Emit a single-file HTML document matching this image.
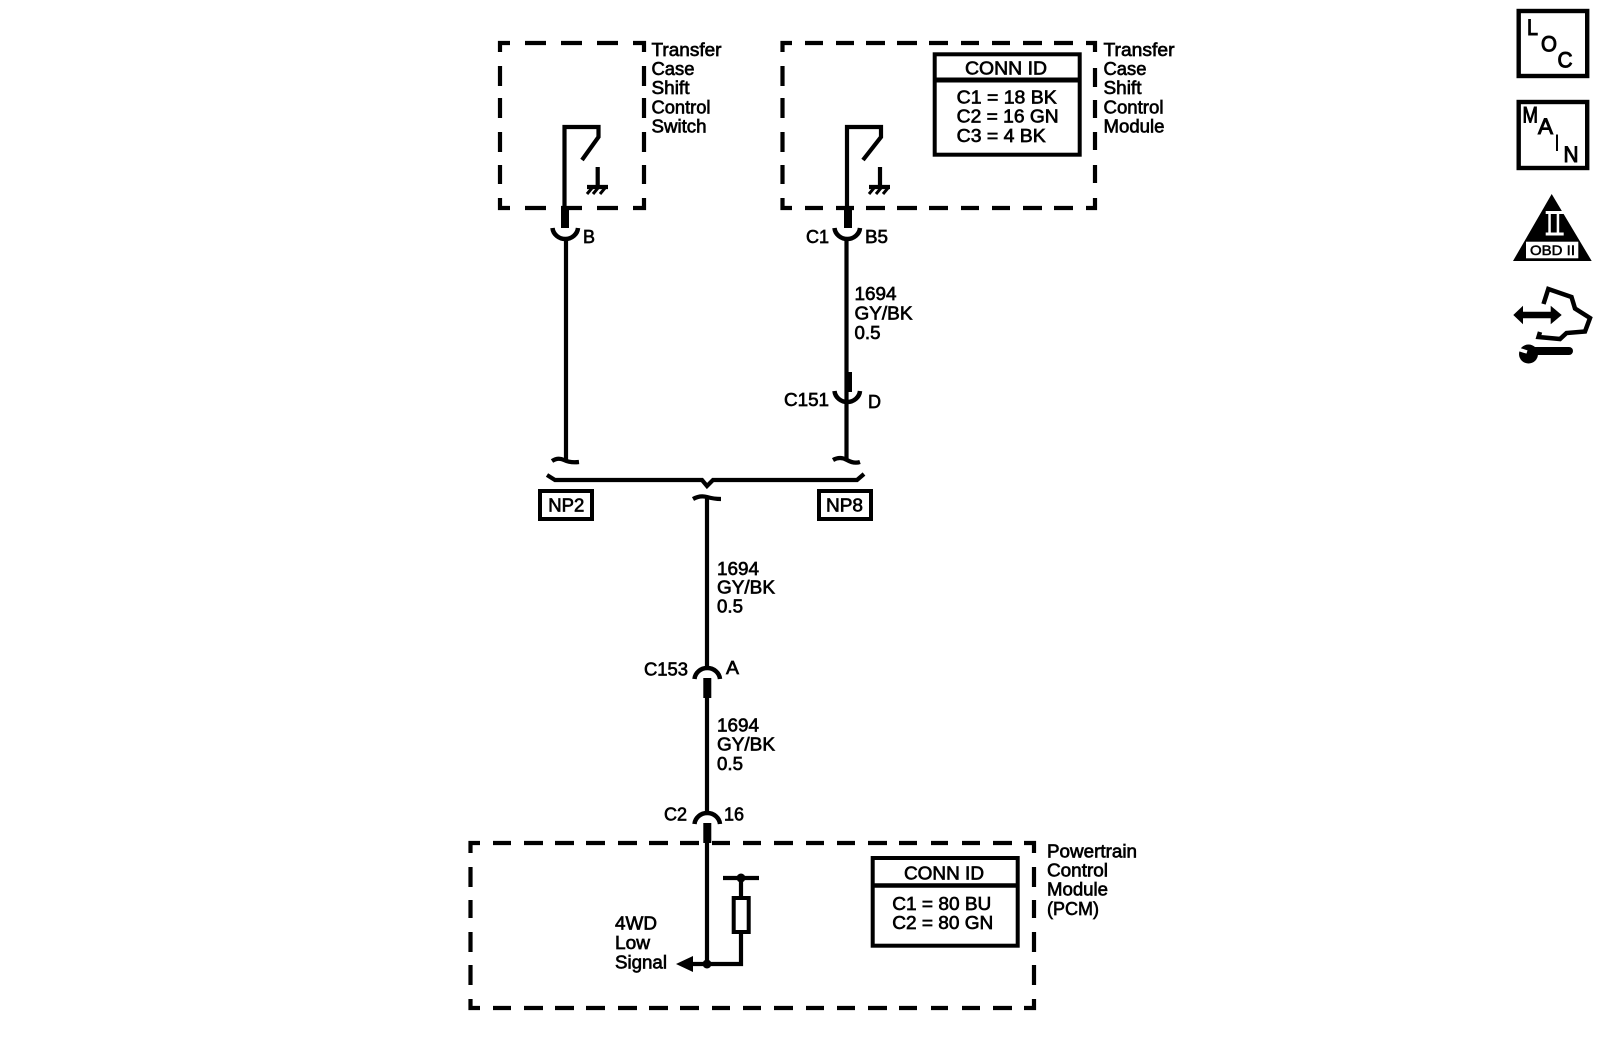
<!DOCTYPE html>
<html>
<head>
<meta charset="utf-8">
<title>Wiring diagram</title>
<style>
html,body{margin:0;padding:0;background:#fff;}
svg{display:block;}
text{font-family:"Liberation Sans",sans-serif;font-size:18px;fill:#000;stroke:#000;stroke-width:.65px;}
.w{fill:none;stroke:#000;stroke-width:4.2;}
.t{fill:none;stroke:#000;stroke-width:8;}
.i{font-size:22px;stroke-width:1px;}
</style>
</head>
<body>
<svg width="1600" height="1052" viewBox="0 0 1600 1052" xmlns="http://www.w3.org/2000/svg">
<rect width="1600" height="1052" fill="#fff"/>

<!-- Left dashed box -->
<path class="w" d="M510 43H500V52M525 43H546M561 43H582M597 43H618M633 43H644V52M500 66V86M500 98V118M500 132V152M500 165V184M500 198V208H510M525 208H546M561 208H582M597 208H618M633 208H644V198M644 66V86M644 98V118M644 132V152M644 165V184"/>
<!-- Right dashed box -->
<path class="w" d="M792 43H782.500V52M805 43H823M836 43H854M866 43H885M897 43H917M929 43H948M961 43H979M992 43H1010M1023 43H1042M1054 43H1073M1086 43H1095V52M782.500 66V86M782.500 98V118M782.500 132V152M782.500 165V184M782.500 198V208H792M805 208H823M836 208H854M866 208H885M897 208H917M929 208H948M961 208H979M992 208H1010M1023 208H1042M1054 208H1073M1086 208H1095V198M1095 68V87M1095 100V118M1095 132V150M1095 165V183"/>
<!-- PCM dashed box -->
<path class="w" d="M480 843H470.500V853M493 843H511M524 843H543M555 843H574M586 843H605M618 843H637M649 843H668M680 843H699M712 843H730M743 843H761M774 843H793M806 843H824M837 843H855M868 843H887M899 843H917M931 843H948M962 843H980M993 843H1012M1024 843H1034V853M470.500 867V887M470.500 900V918M470.500 932V952M470.500 965V985M470.500 999V1008H480M493 1008H511M524 1008H543M555 1008H574M586 1008H605M618 1008H637M649 1008H668M680 1008H699M712 1008H730M743 1008H761M774 1008H793M806 1008H824M837 1008H855M868 1008H887M899 1008H917M931 1008H948M962 1008H980M993 1008H1012M1024 1008H1034V999M1034 867V887M1034 900V918M1034 932V952M1034 965V985"/>

<!-- Left switch -->
<path class="w" d="M564.500 206V127H598.500V137L582 160"/>
<path class="w" d="M597.700 167V187M587 187H608"/>
<path class="w" style="stroke-width:3" d="M592 188L587 194M598 188L593 194M605 188L600 194"/>
<path class="t" d="M565 206V228"/>
<path class="w" style="stroke-width:4.500" d="M552.500 228A12.800 12 0 0 0 578 228"/>
<path class="w" d="M566 240V460"/>
<path class="w" d="M552 461Q558 457 564 460T579 462"/>

<!-- Right switch -->
<path class="w" d="M847 206V127H881V137L863 160"/>
<path class="w" d="M880 167V187M869 187H890"/>
<path class="w" style="stroke-width:3" d="M874 188L869 194M881 188L876 194M888 188L883 194"/>
<path class="t" d="M848 206V228"/>
<path class="w" style="stroke-width:4.500" d="M834.500 228A12.800 12 0 0 0 860 228"/>
<path class="w" d="M846.500 240V460"/>
<path class="t" d="M848.500 372V392" style="stroke-width:7"/>
<path class="w" style="stroke-width:4.500" d="M834.500 391A12.800 12 0 0 0 860 391"/>
<path class="w" d="M833 460Q840 456 847 460T860 462"/>

<!-- Bus -->
<path class="w" d="M547 475L555 480H702L707 486L713 480H857L864 474"/>
<path class="w" d="M693 499Q700 495 707 497T721 499"/>
<path class="w" d="M707 497V666"/>
<rect x="540" y="491" width="52" height="28" fill="#fff" stroke="#000" stroke-width="4"/>
<rect x="819" y="491" width="52" height="28" fill="#fff" stroke="#000" stroke-width="4"/>

<!-- C153 / C2 connectors -->
<path class="w" style="stroke-width:4.500" d="M694.500 679A12.800 12 0 0 1 720 679"/>
<path class="t" d="M707.300 678V698"/>
<path class="w" d="M707 698V811"/>
<path class="w" style="stroke-width:4.500" d="M694.500 824A12.800 12 0 0 1 720 824"/>
<path class="t" d="M707.300 823V843"/>

<!-- PCM internals -->
<path class="w" d="M707 843V964"/>
<path class="w" d="M692 964H741V878"/>
<path class="w" d="M723 878H759"/>
<circle cx="741" cy="878" r="4.500" fill="#000"/>
<circle cx="707" cy="964" r="4.500" fill="#000"/>
<polygon points="676,964 693,956 693,972" fill="#000"/>
<rect x="733.700" y="898" width="15" height="34" fill="#fff" stroke="#000" stroke-width="4"/>

<!-- Conn ID boxes -->
<rect x="934.700" y="54.300" width="145" height="100.400" fill="#fff" stroke="#000" stroke-width="4"/>
<path class="w" style="stroke-width:5" d="M934 80H1081"/>
<rect x="872.700" y="858" width="145" height="87.700" fill="#fff" stroke="#000" stroke-width="4"/>
<path class="w" style="stroke-width:4.500" d="M872 885.500H1019"/>

<!-- Labels -->
<text x="651.500" y="56" textLength="70" lengthAdjust="spacingAndGlyphs">Transfer</text>
<text x="651.500" y="75" textLength="43" lengthAdjust="spacingAndGlyphs">Case</text>
<text x="651.500" y="94" textLength="38" lengthAdjust="spacingAndGlyphs">Shift</text>
<text x="651.500" y="113.500" textLength="59" lengthAdjust="spacingAndGlyphs">Control</text>
<text x="651.500" y="132.500" textLength="55" lengthAdjust="spacingAndGlyphs">Switch</text>

<text x="1103.500" y="56" textLength="71" lengthAdjust="spacingAndGlyphs">Transfer</text>
<text x="1103.500" y="75" textLength="43" lengthAdjust="spacingAndGlyphs">Case</text>
<text x="1103.500" y="94" textLength="38" lengthAdjust="spacingAndGlyphs">Shift</text>
<text x="1103.500" y="113.500" textLength="60" lengthAdjust="spacingAndGlyphs">Control</text>
<text x="1103.500" y="132.500" textLength="61" lengthAdjust="spacingAndGlyphs">Module</text>

<text x="965" y="74.300" textLength="82" lengthAdjust="spacingAndGlyphs">CONN ID</text>
<text x="956.700" y="103.300" textLength="100" lengthAdjust="spacingAndGlyphs">C1 = 18 BK</text>
<text x="956.700" y="122.300" textLength="102" lengthAdjust="spacingAndGlyphs">C2 = 16 GN</text>
<text x="956.700" y="142" textLength="89" lengthAdjust="spacingAndGlyphs">C3 = 4 BK</text>

<text x="583" y="243" textLength="12" lengthAdjust="spacingAndGlyphs">B</text>
<text x="806" y="243" textLength="23" lengthAdjust="spacingAndGlyphs">C1</text>
<text x="865" y="243" textLength="23" lengthAdjust="spacingAndGlyphs">B5</text>

<text x="854.500" y="300" textLength="42" lengthAdjust="spacingAndGlyphs">1694</text>
<text x="854.500" y="319.300" textLength="58" lengthAdjust="spacingAndGlyphs">GY/BK</text>
<text x="854.500" y="339" textLength="26" lengthAdjust="spacingAndGlyphs">0.5</text>

<text x="784" y="406" textLength="45" lengthAdjust="spacingAndGlyphs">C151</text>
<text x="868" y="408" textLength="13" lengthAdjust="spacingAndGlyphs">D</text>

<text x="548.300" y="511.700" textLength="36" lengthAdjust="spacingAndGlyphs">NP2</text>
<text x="826" y="511.700" textLength="37" lengthAdjust="spacingAndGlyphs">NP8</text>

<text x="717" y="575" textLength="42" lengthAdjust="spacingAndGlyphs">1694</text>
<text x="717" y="593.300" textLength="58" lengthAdjust="spacingAndGlyphs">GY/BK</text>
<text x="717" y="612.700" textLength="26" lengthAdjust="spacingAndGlyphs">0.5</text>

<text x="644" y="675.700" textLength="44" lengthAdjust="spacingAndGlyphs">C153</text>
<text x="726" y="674" textLength="13" lengthAdjust="spacingAndGlyphs">A</text>

<text x="717" y="731.500" textLength="42" lengthAdjust="spacingAndGlyphs">1694</text>
<text x="717" y="750.700" textLength="58" lengthAdjust="spacingAndGlyphs">GY/BK</text>
<text x="717" y="770" textLength="26" lengthAdjust="spacingAndGlyphs">0.5</text>

<text x="664" y="820.500" textLength="23" lengthAdjust="spacingAndGlyphs">C2</text>
<text x="724" y="820.500" textLength="20" lengthAdjust="spacingAndGlyphs">16</text>

<text x="1047" y="857.300" textLength="90" lengthAdjust="spacingAndGlyphs">Powertrain</text>
<text x="1047" y="876.700" textLength="61" lengthAdjust="spacingAndGlyphs">Control</text>
<text x="1047" y="895.700" textLength="61" lengthAdjust="spacingAndGlyphs">Module</text>
<text x="1047" y="915" textLength="52" lengthAdjust="spacingAndGlyphs">(PCM)</text>

<text x="904" y="879.300" textLength="80" lengthAdjust="spacingAndGlyphs">CONN ID</text>
<text x="892.300" y="910" textLength="99" lengthAdjust="spacingAndGlyphs">C1 = 80 BU</text>
<text x="892.300" y="929" textLength="101" lengthAdjust="spacingAndGlyphs">C2 = 80 GN</text>

<text x="615" y="929.300" textLength="42" lengthAdjust="spacingAndGlyphs">4WD</text>
<text x="615" y="949" textLength="35" lengthAdjust="spacingAndGlyphs">Low</text>
<text x="615" y="968.300" textLength="52" lengthAdjust="spacingAndGlyphs">Signal</text>

<!-- LOC icon -->
<rect x="1518.700" y="11" width="68.500" height="65" fill="#fff" stroke="#000" stroke-width="4.400"/>
<text class="i" x="1527" y="35" textLength="11" lengthAdjust="spacingAndGlyphs">L</text>
<text class="i" x="1541" y="51.700" textLength="16" lengthAdjust="spacingAndGlyphs">O</text>
<text class="i" x="1557.500" y="67.700" textLength="15" lengthAdjust="spacingAndGlyphs">C</text>

<!-- MAIN icon -->
<rect x="1518.700" y="102" width="68.500" height="66" fill="#fff" stroke="#000" stroke-width="4.400"/>
<text class="i" x="1522.500" y="122.700" textLength="15.500" lengthAdjust="spacingAndGlyphs">M</text>
<text class="i" x="1538" y="134" textLength="15" lengthAdjust="spacingAndGlyphs">A</text>
<text class="i" x="1555" y="150.700" textLength="4" lengthAdjust="spacingAndGlyphs">I</text>
<text class="i" x="1563.500" y="162" textLength="15" lengthAdjust="spacingAndGlyphs">N</text>

<!-- OBD II icon -->
<polygon points="1551.700,194 1591.700,261 1513,261" fill="#000"/>
<rect x="1545.700" y="211" width="18" height="3" fill="#fff"/>
<rect x="1545.700" y="232.500" width="18" height="3" fill="#fff"/>
<rect x="1548.300" y="214" width="2.500" height="18.500" fill="#fff"/>
<rect x="1556.700" y="214" width="2.500" height="18.500" fill="#fff"/>
<rect x="1526" y="241.700" width="52.300" height="16.600" fill="#fff"/>
<text x="1530" y="255" textLength="45" lengthAdjust="spacingAndGlyphs" style="font-size:14px;stroke-width:.5px">OBD II</text>

<!-- Transmission / wrench icon -->
<path d="M1543.500 304L1548.300 289L1571.500 297L1575 308.500L1590 318L1585 331.500L1566.500 333L1560 339L1538.500 337L1540 332" fill="none" stroke="#000" stroke-width="4.500"/>
<polygon points="1513.300,315 1523,305.700 1523,311.700 1550.700,311.700 1550.700,305.700 1561.700,315 1550.700,324.300 1550.700,318.300 1523,318.300 1523,324.300" fill="#000"/>
<path d="M1533 351H1569" stroke="#000" stroke-width="8" stroke-linecap="round"/>
<circle cx="1528.500" cy="354" r="9.500" fill="#000"/>
<path d="M1519 349.500L1527 352" stroke="#fff" stroke-width="3.500"/>
</svg>
</body>
</html>
